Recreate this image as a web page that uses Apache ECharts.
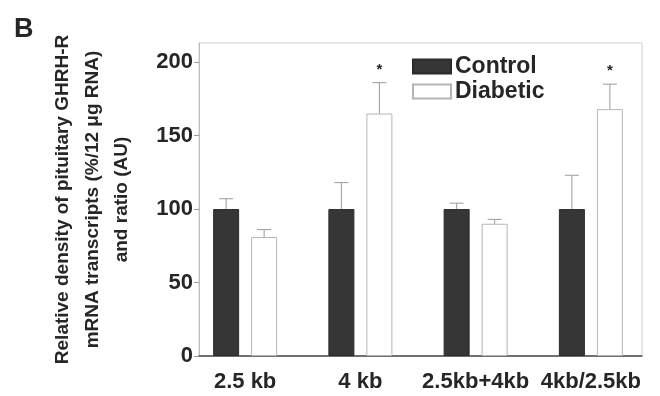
<!DOCTYPE html>
<html>
<head>
<meta charset="utf-8">
<script src="https://cdn.jsdelivr.net/npm/echarts@6/dist/echarts.min.js"></script>
<style>
  html, body { margin: 0; padding: 0; background: #fff; }
  #chart { width: 660px; height: 396px; }
</style>
</head>
<body>
<div id="chart"></div>
<script>
// Transcript groups along the x axis
var categories = ['2.5 kb', '4 kb', '2.5kb+4kb', '4kb/2.5kb'];
// Mean relative density (% of control) and SEM
var controlValues = [100, 100, 100, 100];
var controlErrors = [7, 18, 4, 23];
var diabeticValues = [81, 165, 90, 168];
var diabeticErrors = [5, 21, 3, 17];
// Significance marks above the diabetic bars
var significance = ['', '*', '', '*'];
// Value axis ticks
var yTicks = [0, 50, 100, 150, 200];

var FONT = '"Liberation Sans", Arial, sans-serif';
var TEXT = '#262626';
var BAR_W = 26;
var GAP_PX = 12;
var Y_MAX = 213;

var chart = echarts.init(document.getElementById('chart'), null, { renderer: 'canvas' });

function errorSeries(name, values, errors, side, marks) {
  var data = values.map(function (v, i) { return [i, v, errors[i], marks ? marks[i] : '']; });
  return {
    name: name + ' SEM',
    type: 'custom',
    xAxisIndex: 0,
    yAxisIndex: 0,
    z: 5,
    silent: true,
    data: data,
    renderItem: function (params, api) {
      var idx = api.value(0);
      var v = api.value(1);
      var e = api.value(2);
      var shift = side * (BAR_W + GAP_PX) / 2;
      var base = api.coord([idx, v]);
      var top = api.coord([idx, v + e]);
      var x = base[0] + shift;
      var cap = 7;
      var children = [
        { type: 'line', shape: { x1: x, y1: base[1], x2: x, y2: top[1] },
          style: { stroke: '#9a9a9a', lineWidth: 1 } },
        { type: 'line', shape: { x1: x - cap, y1: top[1], x2: x + cap, y2: top[1] },
          style: { stroke: '#9a9a9a', lineWidth: 1 } }
      ];
      var mark = data[params.dataIndex][3];
      if (mark) {
        children.push({ type: 'text', x: x, y: top[1] - 13,
          style: { text: mark, font: 'bold 15px ' + FONT, fill: TEXT,
                   align: 'center', verticalAlign: 'middle' } });
      }
      return { type: 'group', children: children };
    }
  };
}

var option = {
  backgroundColor: '#fff',
  animation: false,
  textStyle: { fontFamily: FONT },
  graphic: [
    { type: 'text', left: 14, top: 16,
      style: { text: 'B', font: 'bold 27px ' + FONT, fill: TEXT } }
  ],
  legend: {
    orient: 'vertical',
    left: 407, top: 50,
    itemWidth: 38, itemHeight: 14, itemGap: 2,
    icon: 'rect',
    data: ['Control', 'Diabetic'],
    textStyle: { fontFamily: FONT, fontWeight: 'bold', fontSize: 23, color: TEXT, padding: [0, 0, 0, -1] }
  },
  grid: [
    // bar layout grid (category bands)
    { left: 187.5, width: 461, top: 43, bottom: 40, show: false },
    // framed plotting box with the value axis
    { left: 199, right: 18, top: 43, bottom: 40, show: true, borderColor: '#cfcfcf', borderWidth: 1 }
  ],
  xAxis: [
    { type: 'category', gridIndex: 0, data: categories,
      axisLine: { show: false }, axisTick: { show: false },
      axisLabel: { interval: 0, fontFamily: FONT, fontWeight: 'bold', fontSize: 22, color: TEXT, margin: 15 } },
    { type: 'value', gridIndex: 1, min: 0, max: 1,
      axisLine: { show: true, lineStyle: { color: '#4a4a4a', width: 1.5 } },
      axisTick: { show: false }, axisLabel: { show: false }, splitLine: { show: false } }
  ],
  yAxis: [
    { type: 'value', gridIndex: 0, min: 0, max: Y_MAX, show: false, splitLine: { show: false } },
    { type: 'value', gridIndex: 1, min: 0, max: Y_MAX, interval: 50,
      name: 'Relative density of pituitary GHRH-R\nmRNA transcripts (%/12 μg RNA)\nand ratio (AU)',
      nameLocation: 'middle', nameRotate: 90, nameGap: 62,
      nameTextStyle: { fontFamily: FONT, fontWeight: 'bold', fontSize: 19, color: TEXT, lineHeight: 29.5, align: 'center' },
      axisLine: { show: true, lineStyle: { color: '#bdbdbd' } },
      axisTick: { show: true, length: 5, lineStyle: { color: '#9a9a9a' } },
      splitLine: { show: false },
      axisLabel: { fontFamily: FONT, fontWeight: 'bold', fontSize: 22, color: TEXT, margin: 6,
        showMaxLabel: false,
        formatter: function (v) { return yTicks.indexOf(v) >= 0 ? String(v) : ''; } } }
  ],
  series: [
    { name: 'Control', type: 'bar', xAxisIndex: 0, yAxisIndex: 0,
      data: controlValues, barWidth: BAR_W, barGap: (GAP_PX / BAR_W * 100) + '%',
      itemStyle: { color: '#363636', borderColor: '#2a2a2a', borderWidth: 1 } },
    { name: 'Diabetic', type: 'bar', xAxisIndex: 0, yAxisIndex: 0,
      data: diabeticValues, barWidth: BAR_W, barGap: (GAP_PX / BAR_W * 100) + '%',
      itemStyle: { color: '#ffffff', borderColor: '#b5b5b5', borderWidth: 1 } },
    errorSeries('Control', controlValues, controlErrors, -1, null),
    errorSeries('Diabetic', diabeticValues, diabeticErrors, 1, significance)
  ]
};

chart.setOption(option);
</script>
</body>
</html>
